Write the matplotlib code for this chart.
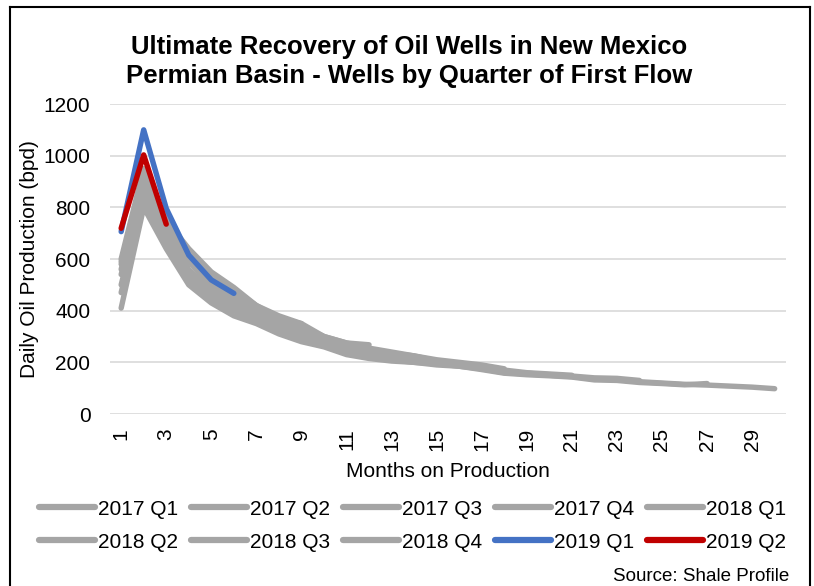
import matplotlib
matplotlib.use("Agg")
import matplotlib.pyplot as plt
from matplotlib.lines import Line2D

plt.rcParams['font.family'] = ['Liberation Sans', 'DejaVu Sans']

# =====================================================
# DATA
# =====================================================

MONTHS = list(range(1, 31))

SERIES_NAMES = [
    '2017 Q1', '2017 Q2', '2017 Q3', '2017 Q4', '2018 Q1',
    '2018 Q2', '2018 Q3', '2018 Q4', '2019 Q1', '2019 Q2'
]

q2017_1 = [410, 800, 640, 500, 430, 380, 350, 310, 280, 260, 230, 215, 205, 200, 190,
           185, 175, 160, 155, 150, 145, 135, 133, 125, 120, 115, 112, 108, 104, 98]
q2017_2 = [470, 830, 660, 520, 440, 400, 365, 320, 290, 265, 240, 220, 210, 200, 195,
           185, 172, 158, 152, 148, 143, 132, 130, 122, 118, 113, 118]
q2017_3 = [500, 850, 680, 540, 460, 410, 380, 340, 300, 270, 245, 225, 220, 210, 200,
           190, 180, 165, 158, 152, 147, 140, 138, 130]
q2017_4 = [540, 870, 700, 560, 480, 430, 390, 350, 310, 280, 255, 235, 225, 215, 205,
           195, 185, 170, 160, 155, 150]
q2018_1 = [560, 900, 720, 590, 500, 450, 400, 360, 330, 290, 265, 245, 235, 225, 210,
           200, 190, 175]
q2018_2 = [590, 920, 740, 610, 520, 470, 410, 370, 340, 300, 275, 255, 240, 225, 205]
q2018_3 = [600, 950, 750, 640, 550, 490, 420, 380, 350, 300, 275, 268]
q2018_4 = [580, 860, 720, 620, 540, 480, 420, 370, 350]
q2019_1 = [706, 1100, 796, 615, 519, 467]
q2019_2 = [719, 1003, 735]

SERIES_VALUES = [q2017_1, q2017_2, q2017_3, q2017_4, q2018_1,
                 q2018_2, q2018_3, q2018_4, q2019_1, q2019_2]

GREY = '#A5A5A5'
COLORS = [GREY] * 8 + ['#4472C4', '#C00000']

X_TICKS = list(range(1, 31, 2))
Y_TICKS = list(range(0, 1201, 200))

# =====================================================
# PLOT
# =====================================================

fig = plt.figure(figsize=(8.14, 5.86), dpi=100)
ax = fig.add_axes([0.135, 0.2935, 0.8305, 0.529])

lines = []
for name, vals, col in zip(SERIES_NAMES, SERIES_VALUES, COLORS):
    ln, = ax.plot(MONTHS[:len(vals)], vals, color=col, linewidth=3.9,
                  solid_capstyle='round', solid_joinstyle='round', label=name)
    lines.append(ln)

ax.set_xlim(0.5, 30.5)
ax.set_ylim(0, 1200)
ax.set_xticks(X_TICKS)
ax.set_xticklabels([str(m) for m in X_TICKS], rotation=90, fontsize=15)
ax.set_yticks(Y_TICKS)
ax.set_yticklabels([str(v) for v in Y_TICKS], fontsize=15)
ax.tick_params(axis='both', length=0)
ax.tick_params(axis='y', pad=14)
ax.tick_params(axis='x', pad=10)

ax.grid(axis='y', color='#D9D9D9', linewidth=1.2)
ax.set_axisbelow(True)
for s in ax.spines.values():
    s.set_visible(False)

ax.set_xlabel("Months on Production", fontsize=15, labelpad=8)
ax.set_ylabel("Daily Oil Production (bpd)", fontsize=15, labelpad=3)

fig.text(0.502, 0.94, "Ultimate Recovery of Oil Wells in New Mexico\nPermian Basin - Wells by Quarter of First Flow",
         ha='center', va='top', fontsize=18.5, fontweight='bold', linespacing=1.25)

# legend filled row by row, like the original
order = [0, 5, 1, 6, 2, 7, 3, 8, 4, 9]
leg = fig.legend([lines[i] for i in order], [SERIES_NAMES[i] for i in order],
                 loc='center', bbox_to_anchor=(0.507, 0.103), ncol=5, frameon=False,
                 fontsize=15, handlelength=2.7, handletextpad=0.15, columnspacing=0.6,
                 labelspacing=0.68)
for h in leg.get_lines():
    h.set_linewidth(4.5)
    h.set_solid_capstyle('round')

fig.text(0.970, 0.001, "Source: Shale Profile", ha='right', va='bottom', fontsize=13.5)

# border
fig.add_artist(Line2D([0.0125, 0.0125], [-0.01, 0.988], transform=fig.transFigure, color='black', linewidth=1.5))
fig.add_artist(Line2D([0.0125, 0.995], [0.988, 0.988], transform=fig.transFigure, color='black', linewidth=1.5))
fig.add_artist(Line2D([0.995, 0.995], [-0.01, 0.988], transform=fig.transFigure, color='black', linewidth=1.5))

fig.savefig("out.png", dpi=100)
plt.close(fig)
